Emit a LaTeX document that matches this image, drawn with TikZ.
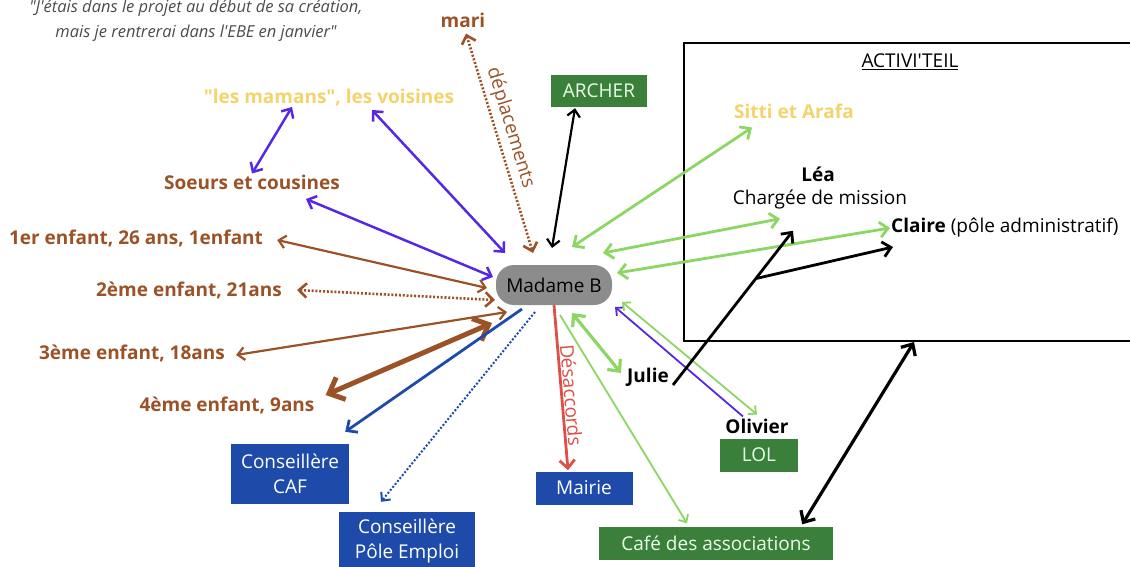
\documentclass[tikz,border=0pt]{standalone}
\usepackage{fontspec}
\setmainfont{Open Sans}[Ligatures=TeXOff]
\usepackage{xcolor}
\usepackage{tikz}
\usetikzlibrary{calc}
\usetikzlibrary{arrows.meta}

\definecolor{brun}{HTML}{9B5226}
\definecolor{jaune}{HTML}{F3D36C}
\definecolor{mauve}{HTML}{5528E6}
\definecolor{vertclair}{HTML}{8CD664}
\definecolor{vertfonce}{HTML}{3A7F3A}
\definecolor{bleu}{HTML}{1E4BAA}
\definecolor{rouge}{HTML}{DC5046}
\definecolor{gris}{HTML}{8C8C8C}

\begin{document}
\begin{tikzpicture}[x=1pt,y=-1pt,
	>={Straight Barb[length=2pt 2.2,width=4pt 4]},
	lab/.style={font=\bfseries\fontsize{19}{22}\selectfont,inner sep=1pt},
	txt/.style={font=\fontsize{19}{22}\selectfont,inner sep=1pt},
	boite/.style={fill=#1,text=white,font=\fontsize{19}{25}\selectfont,align=center,inner sep=0pt},
	pointille/.style={dash pattern=on 2pt off 1.8pt}]
	\useasboundingbox (0,0) rectangle (1130,567);
	
	% la citation
	\node [font=\itshape\fontsize{16.5}{25}\selectfont,text=black!70,align=center] (citation) at (196,21)
		{"J'étais dans le projet au début de sa création,\\mais je rentrerai dans l'EBE en janvier"};
	
	% ACTIVI'TEIL
	\node [draw,line width=2pt,minimum width=460,minimum height=298,inner sep=0pt] (activ) at (914,192) {};
	\node [txt] (titre) at (910,62) {\underline{ACTIVI'TEIL}};
	\node [lab,jaune] (sitti) at (794,111) {Sitti et Arafa};
	\node [lab] (lea) at (818,174) {Léa};
	\node [txt] (mission) at (820,200) {Chargée de mission};
	\node [txt,anchor=west] (claire) at (890,228) {\textbf{Claire} (pôle administratif)};
	
	% les personnes
	\node [fill=gris,rounded corners=18pt,minimum width=116,minimum height=40,txt] (madame) at (554,285) {Madame B};
	\node [lab,brun] (mari) at (463,20) {mari};
	\node [lab,jaune] (mamans) at (329,98) {"les mamans", les voisines};
	\node [lab,brun] (soeurs) at (252,182) {Soeurs et cousines};
	\node [lab,brun] (enf1) at (136,238) {1er enfant, 26 ans, 1enfant};
	\node [lab,brun] (enf2) at (189,290) {2ème enfant, 21ans};
	\node [lab,brun] (enf3) at (132,353) {3ème enfant, 18ans};
	\node [lab,brun] (enf4) at (227,405) {4ème enfant, 9ans};
	\node [lab] (julie) at (648,377) {Julie};
	\node [lab] (olivier) at (757,426) {Olivier};
	
	% les structures
	\node [boite=vertfonce,text=green!8,minimum width=96,minimum height=32] (archer) at (599,91) {ARCHER};
	\node [boite=vertfonce,text=green!8,minimum width=78,minimum height=33] (lol) at (759,455) {LOL};
	\node [boite=vertfonce,text=green!8,minimum width=234,minimum height=33] (cafe) at (716,543) {Café des associations};
	\node [boite=bleu,minimum width=97,minimum height=33] (mairie) at (584,488) {Mairie};
	\node [boite=bleu,minimum width=118,minimum height=60] (caf) at (290,474) {Conseillère\\CAF};
	\node [boite=bleu,minimum width=136,minimum height=58] (pole) at (407,541) {Conseillère\\Pôle Emploi};
	
	% liens de la famille
	\draw [<->,brun,line width=2.6pt,pointille] ($(mari.south)+(3,5)$) -- ($(madame)+(-21,-32)$)
		node [pos=0.45,sloped,above=3pt,txt,brun] {déplacements};
	\draw [<->,mauve,line width=2.5pt] ($(mamans)+(-37,9)$) -- (soeurs.north);
	\draw [<->,mauve,line width=2.5pt] ($(mamans)+(43,12)$) -- ($(madame)+(-49,-32)$);
	\draw [<->,mauve,line width=2.5pt] ($(soeurs)+(54,17)$) -- ($(madame)+(-61,-8)$);
	\draw [<->,brun,line width=2.2pt] ($(enf1.east)+(13,2)$) -- ($(madame)+(-67,3)$);
	\draw [<->,brun,line width=2.6pt,pointille] ($(enf2.east)+(14,0)$) -- ($(madame)+(-59,15)$);
	\draw [<->,brun,line width=2.2pt] ($(enf3.east)+(10,2)$) -- ($(madame)+(-47,27)$);
	\draw [<->,brun,line width=5pt] ($(enf4.east)+(10,-10)$) -- ($(madame)+(-62,38)$);
	
	% liens des structures
	\draw [<->,line width=2.2pt] ($(archer.south)+(-24,1)$) -- ($(madame)+(-2,-37)$);
	\draw [->,bleu,line width=2.8pt] ($(madame)+(-32,24)$) -- ($(caf.north east)+(-4,-12)$);
	\draw [->,bleu,line width=2pt,pointille] ($(madame)+(-19,27)$) -- ($(pole.north)+(-26,-10)$);
	\draw [->,rouge,line width=2.8pt] (madame.south) -- ($(mairie.north)+(-16,-1)$)
		node [pos=0.55,sloped,above,txt,rouge] {Désaccords};
	\draw [->,vertclair,line width=1.8pt] ($(madame)+(6,30)$) -- ($(cafe.north)+(-29,-3)$);
	\draw [<->,vertclair,line width=3.2pt] ($(madame)+(18,28)$) -- ($(julie.west)+(-5,-4)$);
	\draw [->,mauve,line width=1.8pt] ($(olivier.north)+(-14,-1)$) -- ($(madame)+(61,22)$);
	\draw [<->,vertclair,line width=1.8pt] ($(madame)+(68,17)$) -- ($(olivier.north)+(0,-3)$);
	\draw [<->,line width=3.2pt] ($(cafe.north east)+(-31,-2)$) -- (activ.south);
	
	% liens avec ACTIVI'TEIL
	\draw [<->,vertclair,line width=2.8pt] ($(sitti.south)+(-42,8)$) -- ($(madame)+(18,-38)$);
	\draw [<->,vertclair,line width=2.8pt] ($(mission.south)+(-40,8)$) -- ($(madame)+(49,-32)$);
	\draw [<->,vertclair,line width=2.8pt] (claire.west) -- ($(madame)+(63,-12)$);
	\draw [->,line width=2.8pt] ($(julie.east)+(3,8)$) -- coordinate[pos=0.69] (fourche) ($(mission.south)+(-27,20)$);
	\draw [->,line width=2.8pt] (fourche) -- ($(claire.west)+(3,19)$);
\end{tikzpicture}
\end{document}
